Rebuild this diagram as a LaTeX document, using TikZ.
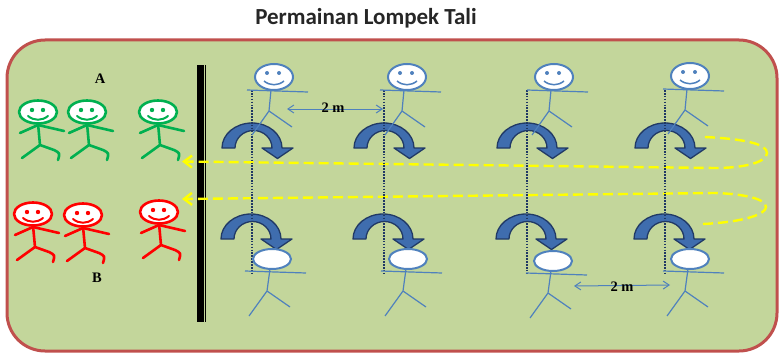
\documentclass[tikz,border=0pt]{standalone}
\usepackage{fontspec}
\setmainfont{Liberation Serif}
\newfontfamily\titlefont{Carlito}
\usetikzlibrary{arrows.meta}

\definecolor{fieldgreen}{HTML}{C3D69B}
\definecolor{fieldedge}{HTML}{C0504D}
\definecolor{kidgreen}{HTML}{00B050}
\definecolor{kidred}{HTML}{FF0000}
\definecolor{manblue}{HTML}{4F81BD}
\definecolor{ropenavy}{HTML}{1F3864}
\definecolor{jumpfill}{HTML}{3F6DAE}
\definecolor{jumpedge}{HTML}{213A66}
\definecolor{pathyellow}{HTML}{FFFF00}
\definecolor{titlegray}{HTML}{262626}

\begin{document}
\begin{tikzpicture}[x=1pt,y=1pt,
  kidline/.style={line width=2.6pt, line cap=round, line join=round},
  manline/.style={manblue, line width=1.2pt},
  ropeline/.style={ropenavy, line width=2.6pt, dash pattern=on 1.6pt off 1.3pt},
  runline/.style={pathyellow, line width=2.4pt, dash pattern=on 10pt off 5pt,
                  -{Straight Barb[length=8pt,width=12pt]}},
  gapline/.style={manblue, line width=1pt,
                  {Straight Barb[length=6pt,width=8pt]}-{Straight Barb[length=6pt,width=8pt]}},
  lbl/.style={font=\bfseries\fontsize{14.5}{14.5}\selectfont},
  % a waiting child of team A or B, origin at the centre of the head
  pics/kid/.style={code={
     \draw[#1, kidline] (0,-11.5) -- (2,-33);
     \draw[#1, kidline] (-18,-21) -- (0,-13) -- (26,-19);
     \draw[#1, kidline] (-16,-46) -- (2,-33) -- (16,-38) .. controls (22,-41) .. (20,-48);
     \draw[#1, kidline, fill=white] (0,0) ellipse [x radius=19pt, y radius=11.5pt];
     \fill[#1] (-6,2) circle (2.2pt) (5,2) circle (2.2pt);
     \draw[#1, line width=2pt, line cap=round] (-10,-4) .. controls (-4,-9) and (4,-9) .. (10,-4);
  }},
  % rope holder facing the field, top row
  pics/topman/.style={code={
     \draw[manline] (-27,-13) -- (34,-15);
     \draw[manline] (-3,-13) -- (-5,-34) -- (-22,-58);
     \draw[manline] (-5,-34) -- (18,-50);
     \draw[manblue, line width=2pt, fill=white] (0,0) ellipse [x radius=19pt, y radius=13pt];
     \fill[manblue] (-7,4) circle (2pt) (5,4) circle (2pt);
     \draw[manblue, line width=1.5pt] (-10,-4) .. controls (-4,-9) and (4,-9) .. (10,-4);
  }},
  % rope holder seen from behind, bottom row
  pics/botman/.style={code={
     \draw[manline] (-27,-12) -- (34,-14);
     \draw[manline] (-2,-10) -- (-5,-32) -- (-23,-57);
     \draw[manline] (-5,-32) -- (18,-48);
     \draw[manblue, line width=2pt, fill=white] (0,0) ellipse [x radius=19pt, y radius=10pt];
  }},
  % curved jump arrow, origin at the middle of its base
  pics/jump/.style={code={
     \filldraw[fill=jumpfill, draw=jumpedge, line width=1.3pt, line join=round]
       (-30,0) arc[start angle=180, end angle=0, x radius=30pt, y radius=25pt]
       -- (41,0) -- (25.5,-10.5) -- (10,0) -- (20,0)
       arc[start angle=0, end angle=180, x radius=18.5pt, y radius=17.5pt] -- cycle;
  }},
]
\useasboundingbox (0,0) rectangle (779,-353);

% playing field
\draw[fieldedge, line width=3pt, fill=fieldgreen, rounded corners=38pt]
  (7,-40) rectangle (777,-351);

% title
\node[font=\titlefont\bfseries\fontsize{23}{23}\selectfont, text=titlegray, anchor=base]
  (title) at (366,-25) {Permainan Lompek Tali};

% start line
\fill[black] (197,-65) rectangle (203.5,-322);
\draw[black, line width=1.5pt] (205.5,-65) -- (205.5,-322);

% teams
\node[lbl] (teamA) at (100,-79) {A};
\node[lbl] (teamB) at (97,-278) {B};
\pic at (38,-112) {kid=kidgreen};
\pic at (87,-112) {kid=kidgreen};
\pic at (158,-112) {kid=kidgreen};
\pic at (33,-214) {kid=kidred};
\pic at (83,-215) {kid=kidred};
\pic at (159,-212) {kid=kidred};

% running route
\draw[runline] (705,-137) .. controls (745,-139) and (767,-144) .. (767,-153)
  .. controls (767,-162) and (745,-168) .. (715,-168) -- (182,-161.5);
\draw[runline] (703,-224) .. controls (745,-222) and (766,-214) .. (766,-207)
  .. controls (766,-199) and (745,-194) .. (715,-193) -- (182,-199);

% jump arrows
\foreach \d in {252,384,527,665} {
  \pic at (\d,-148) {jump};
  \pic at (\d-1,-239) {jump};
}

% ropes
\foreach \d in {252,384,527,665}
  \draw[ropeline] (\d,-90) -- (\d,-274);

% rope holders
\pic at (274,-77) {topman};
\pic at (407,-77) {topman};
\pic at (554,-77) {topman};
\pic at (690,-76) {topman};
\pic at (272,-259) {botman};
\pic at (408,-259) {botman};
\pic at (553,-261) {botman};
\pic at (690,-259) {botman};

% spacing marks
\coordinate (g1a) at (287,-109);
\coordinate (g1b) at (383,-109);
\draw[gapline] (g1a) -- (g1b);
\node[lbl] (gap1) at (333,-108) {2 m};
\coordinate (g2a) at (574,-286);
\coordinate (g2b) at (670,-285);
\draw[gapline] (g2a) -- (g2b);
\node[lbl] (gap2) at (622,-287) {2 m};
\end{tikzpicture}
\end{document}
